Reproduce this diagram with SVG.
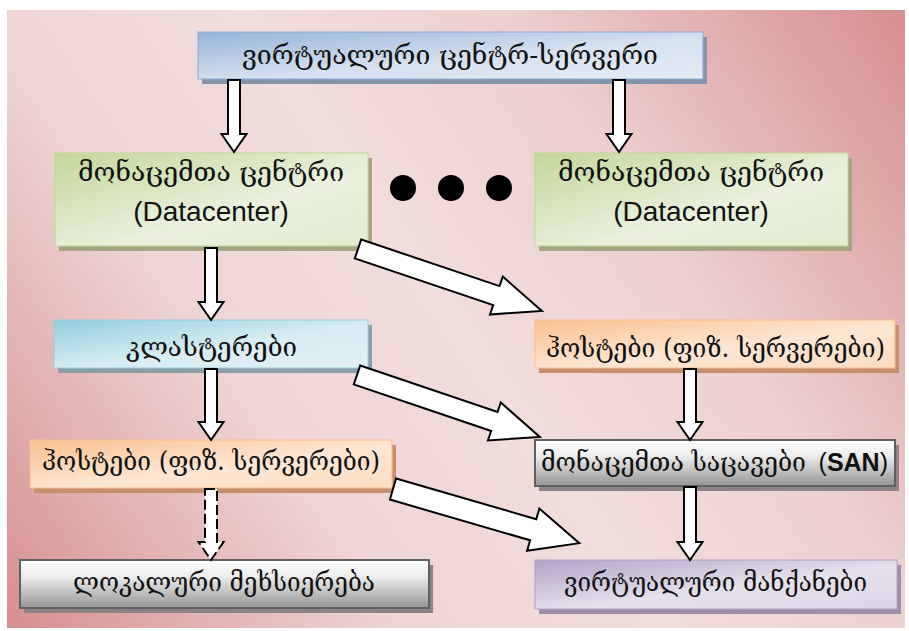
<svg xmlns="http://www.w3.org/2000/svg" width="909" height="631" viewBox="0 0 909 631">
<defs>
  <linearGradient id="bg" gradientUnits="userSpaceOnUse" x1="7" y1="628" x2="905" y2="10">
    <stop offset="0" stop-color="#d68f8e"/>
    <stop offset="0.3" stop-color="#efd5d5"/>
    <stop offset="0.5" stop-color="#f2dcdc"/>
    <stop offset="0.7" stop-color="#edd0d0"/>
    <stop offset="1" stop-color="#d68f8e"/>
  </linearGradient>
  <linearGradient id="gBlue" x1="0" y1="0" x2="1" y2="1">
    <stop offset="0" stop-color="#95b3d7"/>
    <stop offset="0.55" stop-color="#d6e1f0"/>
    <stop offset="1" stop-color="#e4ebf5"/>
  </linearGradient>
  <linearGradient id="gGreen" x1="0" y1="0" x2="1" y2="1">
    <stop offset="0" stop-color="#c3d69b"/>
    <stop offset="0.6" stop-color="#ebf1de"/>
    <stop offset="1" stop-color="#e3ecd0"/>
  </linearGradient>
  <linearGradient id="gCyan" x1="0" y1="0" x2="1" y2="1">
    <stop offset="0" stop-color="#93cddd"/>
    <stop offset="0.55" stop-color="#d8edf3"/>
    <stop offset="1" stop-color="#e2f1f5"/>
  </linearGradient>
  <linearGradient id="gOrange" x1="0" y1="0" x2="1" y2="1">
    <stop offset="0" stop-color="#fac08f"/>
    <stop offset="0.55" stop-color="#fde6d3"/>
    <stop offset="1" stop-color="#fcdcc2"/>
  </linearGradient>
  <linearGradient id="gGrey" x1="0" y1="0" x2="0" y2="1">
    <stop offset="0" stop-color="#ffffff"/>
    <stop offset="0.35" stop-color="#ececec"/>
    <stop offset="1" stop-color="#959595"/>
  </linearGradient>
  <linearGradient id="gPurple" x1="0" y1="0" x2="1" y2="1">
    <stop offset="0" stop-color="#b3a2c7"/>
    <stop offset="0.55" stop-color="#e5e0ec"/>
    <stop offset="1" stop-color="#ddd5e7"/>
  </linearGradient>
</defs>
<style>
  .geo { font-family: "DejaVu Serif", "DejaVu Sans", serif; font-size: 26px; fill: #111; }
  .lat { font-family: "Liberation Sans", Arial, sans-serif; font-size: 28px; fill: #111; }
  .san { font-family: "Liberation Sans", Arial, sans-serif; font-size: 25px; fill: #111; }
  .arrow { fill: #ffffff; stroke: #000; stroke-width: 2; stroke-linejoin: miter; }
  .dashed { stroke-dasharray: 10 4; }
  .sh-blue { fill: #8594ad; }
  .sh-green { fill: #a6a582; }
  .sh-cyan { fill: #8c9fa8; }
  .sh-orange { fill: #c88f6e; }
  .sh-grey { fill: #8b8385; }
  .sh-purple { fill: #9f8ea7; }
</style>

<rect x="7" y="10" width="898" height="618" fill="url(#bg)"/>

<g id="node-vcenter">
  <rect class="sh-blue" x="202" y="37" width="505" height="47"/>
  <rect x="198" y="32" width="505" height="47" fill="url(#gBlue)" stroke="#8eaad6" stroke-width="1"/>
  <text class="geo" x="242" y="64" textLength="416" lengthAdjust="spacingAndGlyphs">ვირტუალური ცენტრ-სერვერი</text>
</g>

<g id="node-dc-left">
  <rect class="sh-green" x="59" y="158" width="313" height="93"/>
  <rect x="55" y="153" width="313" height="93" fill="url(#gGreen)" stroke="#c2d59a" stroke-width="1"/>
  <text class="geo" x="78" y="181" textLength="266" lengthAdjust="spacingAndGlyphs">მონაცემთა ცენტრი</text>
  <text class="lat" x="211" y="221" text-anchor="middle">(Datacenter)</text>
</g>

<g id="node-dots">
  <circle cx="403" cy="188" r="13" fill="#000"/>
  <circle cx="451" cy="188" r="13" fill="#000"/>
  <circle cx="499" cy="188" r="13" fill="#000"/>
</g>

<g id="node-dc-right">
  <rect class="sh-green" x="539" y="158" width="313" height="93"/>
  <rect x="535" y="153" width="313" height="93" fill="url(#gGreen)" stroke="#c2d59a" stroke-width="1"/>
  <text class="geo" x="558" y="181" textLength="266" lengthAdjust="spacingAndGlyphs">მონაცემთა ცენტრი</text>
  <text class="lat" x="691" y="221" text-anchor="middle">(Datacenter)</text>
</g>

<g id="node-clusters">
  <rect class="sh-cyan" x="58" y="325" width="314" height="48"/>
  <rect x="54" y="320" width="314" height="48" fill="url(#gCyan)" stroke="#93cddd" stroke-width="1"/>
  <text class="geo" x="126" y="356" textLength="171" lengthAdjust="spacingAndGlyphs">კლასტერები</text>
</g>

<g id="node-hosts-right">
  <rect class="sh-orange" x="539" y="325" width="360" height="48"/>
  <rect x="535" y="320" width="360" height="48" fill="url(#gOrange)" stroke="#f9bd8c" stroke-width="1"/>
  <text class="geo" x="546" y="357" textLength="339" lengthAdjust="spacingAndGlyphs">ჰოსტები (ფიზ. სერვერები)</text>
</g>

<g id="node-hosts-left">
  <rect class="sh-orange" x="34" y="445" width="362" height="48"/>
  <rect x="30" y="440" width="362" height="48" fill="url(#gOrange)" stroke="#f9bd8c" stroke-width="1"/>
  <text class="geo" x="42" y="470" textLength="338" lengthAdjust="spacingAndGlyphs">ჰოსტები (ფიზ. სერვერები)</text>
</g>

<g id="node-san">
  <rect class="sh-grey" x="539" y="445" width="360" height="46"/>
  <rect x="535" y="440" width="360" height="46" fill="url(#gGrey)" stroke="#606060" stroke-width="2"/>
  <text class="geo" x="541" y="471" textLength="265" lengthAdjust="spacingAndGlyphs">მონაცემთა საცავები</text>
  <text class="san" x="888" y="471" text-anchor="end">(<tspan font-weight="bold">SAN</tspan>)</text>
</g>

<g id="node-local-storage">
  <rect class="sh-grey" x="24" y="565" width="409" height="48"/>
  <rect x="20" y="560" width="409" height="48" fill="url(#gGrey)" stroke="#606060" stroke-width="2"/>
  <text class="geo" x="73" y="591" textLength="302" lengthAdjust="spacingAndGlyphs">ლოკალური მეხსიერება</text>
</g>

<g id="node-vms">
  <rect class="sh-purple" x="539" y="565" width="362" height="49"/>
  <rect x="535" y="560" width="362" height="49" fill="url(#gPurple)" stroke="#b1a0c6" stroke-width="1"/>
  <text class="geo" x="564" y="591" textLength="303" lengthAdjust="spacingAndGlyphs">ვირტუალური მანქანები</text>
</g>

<g id="connectors">
  <polygon class="arrow" points="228,80 240,80 240,134 246.5,134 234,152 221.5,134 228,134"/>
  <polygon class="arrow" points="613,80 625,80 625,134 631.5,134 619,152 606.5,134 613,134"/>
  <polygon class="arrow" points="205,248 217,248 217,302 223.5,302 211,320 198.5,302 205,302"/>
  <polygon class="arrow" points="205,369 217,369 217,422 223.5,422 211,440 198.5,422 205,422"/>
  <polygon class="arrow dashed" points="205,489 217,489 217,542 223.5,542 211,560 198.5,542 205,542"/>
  <polygon class="arrow" points="684,369 696,369 696,422 702.5,422 690,440 677.5,422 684,422"/>
  <polygon class="arrow" points="684,487 696,487 696,542 702.5,542 690,560 677.5,542 684,542"/>
  <polygon class="arrow" transform="translate(358,249) rotate(18.6)" points="0,-10 146,-10 146,-20 194,0 146,20 146,10 0,10"/>
  <polygon class="arrow" transform="translate(357,375) rotate(18.7)" points="0,-10 145,-10 145,-20 193,0 145,20 145,10 0,10"/>
  <polygon class="arrow" transform="translate(393,489) rotate(16.2)" points="0,-11 146,-11 146,-22 194,0 146,22 146,11 0,11"/>
</g>
</svg>
